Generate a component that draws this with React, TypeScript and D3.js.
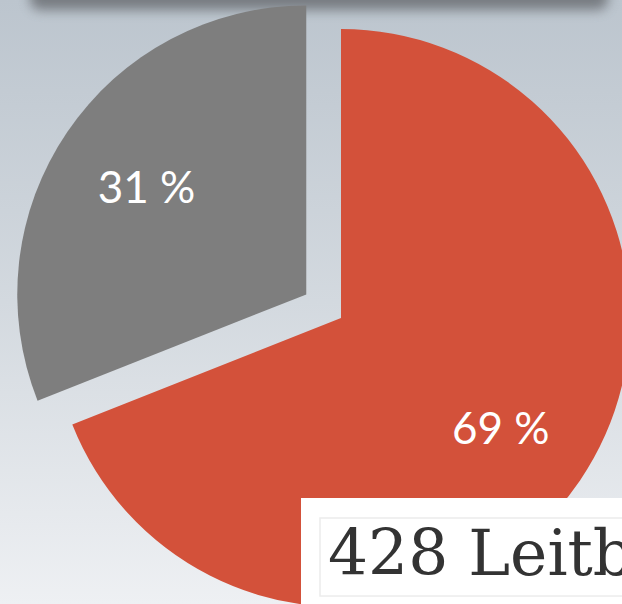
import React from 'react';
import * as d3 from 'd3';

const W = 622;
const H = 604;

const categories = ['ja', 'nein'];
const values = [69, 31];
const labels = ['69 %', '31 %'];
const sliceColors = ['#d3513a', '#7e7e7e'];
const explode = [0, 42];
const boxText = '428 Leitb';

const center = { x: 341, y: 318 };
const radius = 289;

export default function App() {
  const pie = d3
    .pie<number>()
    .sort(null)
    .value((d) => d)
    .startAngle(0)
    .endAngle(2 * Math.PI);
  const arcs = pie(values);
  const arcGen = d3.arc<d3.PieArcDatum<number>>().innerRadius(0).outerRadius(radius);
  const labelArc = d3
    .arc<d3.PieArcDatum<number>>()
    .innerRadius(radius * 0.668)
    .outerRadius(radius * 0.668);

  return (
    <div style={{ position: 'fixed', left: 0, top: 0, width: W, height: H }}>
      <svg width={W} height={H} style={{ display: 'block' }}>
        <defs>
          <linearGradient id="bg" x1="0" x2="0" y1="0" y2="1">
            <stop offset="0%" stopColor="#bcc5ce" />
            <stop offset="50%" stopColor="#d3d9df" />
            <stop offset="100%" stopColor="#eef0f3" />
          </linearGradient>
          <filter id="blur" x="-10%" y="-200%" width="120%" height="500%">
            <feGaussianBlur stdDeviation="6" />
          </filter>
        </defs>

        <rect x={0} y={0} width={W} height={H} fill="url(#bg)" />

        {/* shadow of the panel above */}
        <rect x={30} y={-34} width={578} height={44} rx={10} fill="#6c7075" opacity={0.85} filter="url(#blur)" />

        {arcs.map((a, i) => {
          const mid = (a.startAngle + a.endAngle) / 2;
          const dx = Math.sin(mid) * explode[i];
          const dy = -Math.cos(mid) * explode[i];
          const [lx, ly] = labelArc.centroid(a);
          return (
            <g key={categories[i]} transform={`translate(${center.x + dx},${center.y + dy})`}>
              <path d={arcGen(a) ?? ''} fill={sliceColors[i]} />
              <text
                x={lx}
                y={ly}
                fill="#ffffff"
                fontFamily="Lato, 'Open Sans', sans-serif"
                fontSize={44}
                textAnchor="middle"
                dominantBaseline="central"
              >
                {labels[i]}
              </text>
            </g>
          );
        })}

        {/* white caption box (text runs past the right edge, as in the source) */}
        <rect x={301} y={498} width={W - 301} height={H - 498} fill="#ffffff" />
        <rect x={320} y={518} width={W - 320 + 10} height={78} fill="none" stroke="#ececec" strokeWidth={1.5} />
        <text x={328} y={575} fill="#333333" fontFamily="'DejaVu Serif', serif" fontSize={63}>
          {boxText}
        </text>
      </svg>
    </div>
  );
}
